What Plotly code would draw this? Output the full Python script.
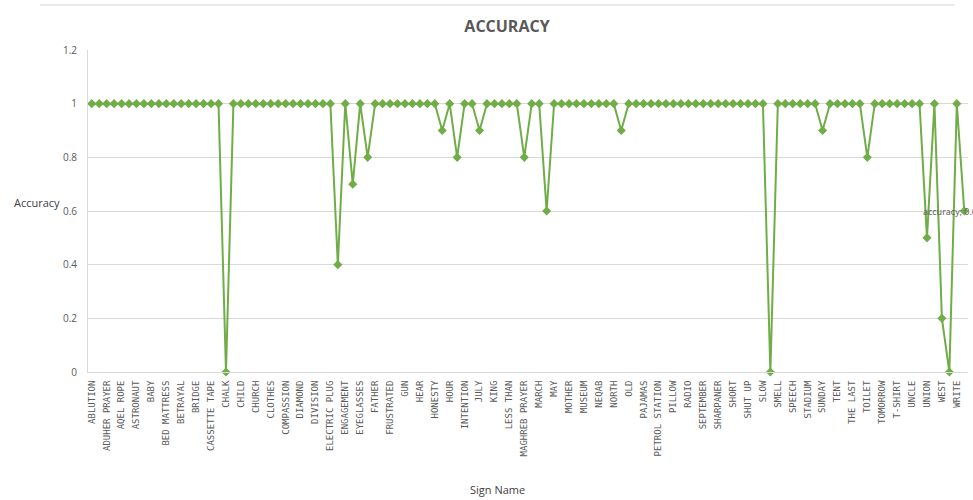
import plotly.graph_objects as go

# Sign names (only every other category carries a visible label)
sign_labels = [
    "ABLUTION", "ADUHER PRAYER", "AQEL ROPE", "ASTRONAUT", "BABY", "BED MATTRESS",
    "BETRAYAL", "BRIDGE", "CASSETTE TAPE", "CHALK", "CHILD", "CHURCH", "CLOTHES",
    "COMPASSION", "DIAMOND", "DIVISION", "ELECTRIC PLUG", "ENGAGEMENT", "EYEGLASSES",
    "FATHER", "FRUSTRATED", "GUN", "HEAR", "HONESTY", "HOUR", "INTENTION", "JULY",
    "KING", "LESS THAN", "MAGHREB PRAYER", "MARCH", "MAY", "MOTHER", "MUSEUM", "NEQAB",
    "NORTH", "OLD", "PAJAMAS", "PETROL STATION", "PILLOW", "RADIO", "SEPTEMBER",
    "SHARPANER", "SHORT", "SHUT UP", "SLOW", "SMELL", "SPEECH", "STADIUM", "SUNDAY",
    "TENT", "THE LAST", "TOILET", "TOMORROW", "T-SHIRT", "UNCLE", "UNION", "WEST", "WRITE",
]

# Accuracy per sign (118 signs)
accuracy = [
    1, 1, 1, 1, 1, 1, 1, 1, 1, 1,      # 0-9
    1, 1, 1, 1, 1, 1, 1, 1, 0, 1,      # 10-19
    1, 1, 1, 1, 1, 1, 1, 1, 1, 1,      # 20-29
    1, 1, 1, 0.4, 1, 0.7, 1, 0.8, 1, 1,  # 30-39
    1, 1, 1, 1, 1, 1, 1, 0.9, 1, 0.8,  # 40-49
    1, 1, 0.9, 1, 1, 1, 1, 1, 0.8, 1,  # 50-59
    1, 0.6, 1, 1, 1, 1, 1, 1, 1, 1,    # 60-69
    1, 0.9, 1, 1, 1, 1, 1, 1, 1, 1,    # 70-79
    1, 1, 1, 1, 1, 1, 1, 1, 1, 1,      # 80-89
    1, 0, 1, 1, 1, 1, 1, 1, 0.9, 1,    # 90-99
    1, 1, 1, 1, 0.8, 1, 1, 1, 1, 1,    # 100-109
    1, 1, 0.5, 1, 0.2, 0, 1, 0.6,      # 110-117
]

positions = list(range(len(accuracy)))
label_positions = positions[::2]

GREEN = "#70AD47"
GRAY = "#595959"

# plot-area geometry in pixels, used to place paper-referenced items
PL, PR, PT, PB = 88, 968, 50, 372


def px_x(px):
    return (px - PL) / (PR - PL)


def px_y(py):
    return (PB - py) / (PB - PT)


fig = go.Figure()
fig.add_trace(go.Scatter(
    x=positions,
    y=accuracy,
    mode="lines+markers",
    name="accuracy",
    line=dict(color=GREEN, width=2),
    marker=dict(symbol="diamond", size=7, color=GREEN),
    cliponaxis=False,
    showlegend=False,
))

# data label on the last point
fig.add_annotation(
    x=positions[-1], y=accuracy[-1], xref="x", yref="y",
    text=f"accuracy; {accuracy[-1]}", showarrow=False,
    xanchor="center", yanchor="middle", xshift=-14,
    font=dict(family="Open Sans", size=9, color=GRAY),
)

# y-axis title, written horizontally
fig.add_annotation(
    x=px_x(12), y=px_y(203), xref="paper", yref="paper",
    xanchor="left", yanchor="middle",
    text="Accuracy", showarrow=False,
    font=dict(family="Open Sans", size=11, color="#404040"),
)

# x-axis title
fig.add_annotation(
    x=px_x(497), y=px_y(489), xref="paper", yref="paper",
    xanchor="center", yanchor="middle",
    text="Sign Name", showarrow=False,
    font=dict(family="Open Sans", size=11, color="#404040"),
)

# thin frame line along the top
fig.add_shape(type="line", xref="paper", yref="paper",
              x0=px_x(40), x1=px_x(955), y0=px_y(5), y1=px_y(5),
              line=dict(color="#e3e3e3", width=1.5))

fig.update_layout(
    width=973, height=500,
    margin=dict(l=PL, r=973 - PR, t=PT, b=500 - PB),
    paper_bgcolor="white", plot_bgcolor="white",
    title=dict(
        text="<b>ACCURACY</b>", x=507 / 973, xanchor="center",
        y=1 - 26 / 500, yanchor="middle", yref="container",
        font=dict(family="Open Sans", size=16, color=GRAY),
    ),
    xaxis=dict(
        range=[-0.5, len(accuracy) - 0.5],
        tickmode="array", tickvals=label_positions, ticktext=sign_labels,
        tickangle=-90, showgrid=False, zeroline=False,
        showline=True, linecolor="#d9d9d9", linewidth=1,
        ticks="", ticklabelstandoff=4,
        tickfont=dict(family="DejaVu Sans Mono", size=9, color=GRAY),
    ),
    yaxis=dict(
        range=[0, 1.2], dtick=0.2, tick0=0,
        showgrid=True, gridcolor="#d9d9d9", gridwidth=1,
        zeroline=False, showline=True, linecolor="#d9d9d9", linewidth=1,
        ticks="", ticklabelstandoff=8,
        tickfont=dict(family="Open Sans", size=10, color=GRAY),
    ),
)

fig.write_html("out.html")
